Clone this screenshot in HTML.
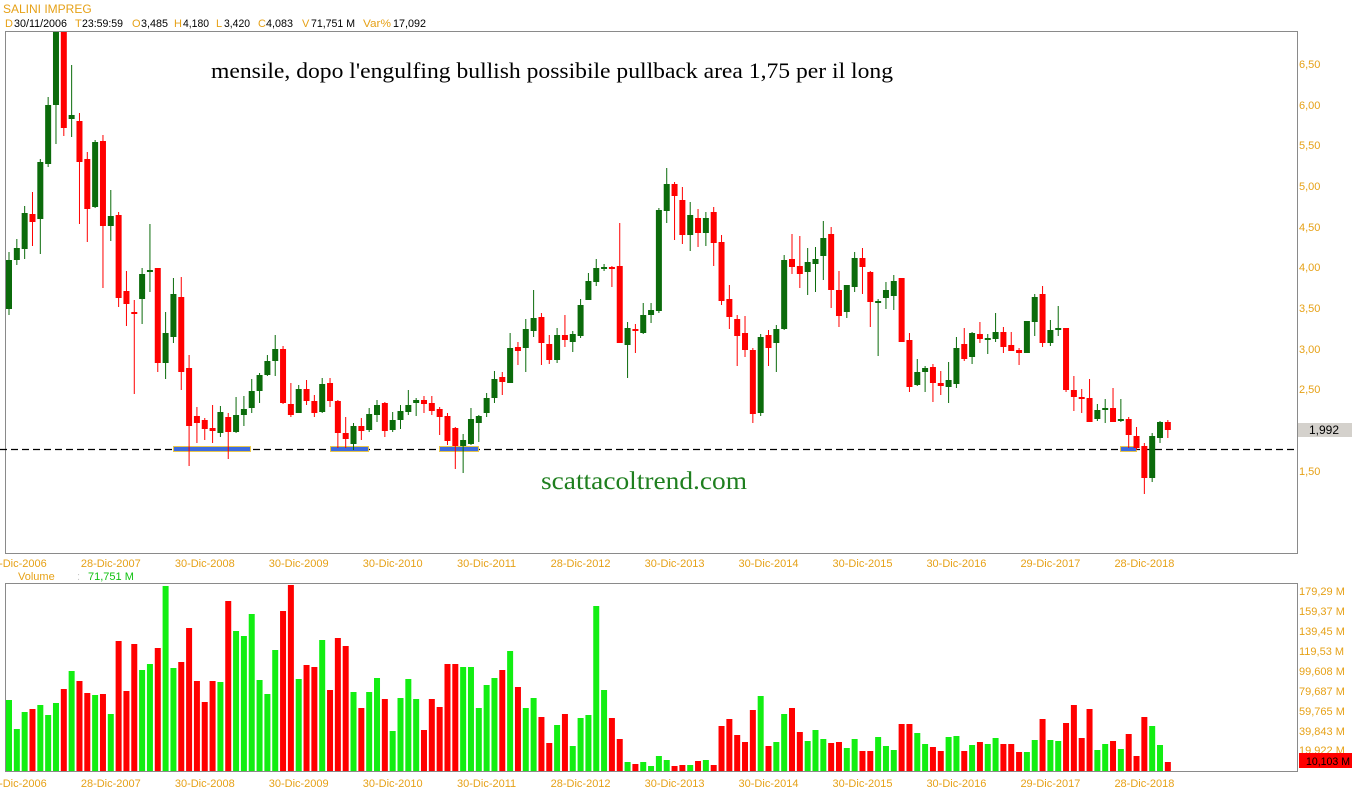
<!DOCTYPE html>
<html><head><meta charset="utf-8"><style>
html,body{margin:0;padding:0;background:#fff;}
svg{display:block;}
.o{fill:#e6a117;}
.k{fill:#000;}
.G{fill:#0b6b0b;}
.R{fill:#ff0000;}
text{font-family:"Liberation Sans",Arial,sans-serif;}
</style></head><body>
<svg width="1352" height="800" viewBox="0 0 1352 800" xmlns="http://www.w3.org/2000/svg">
<defs><clipPath id="cp"><rect x="6" y="32" width="1291" height="521"/></clipPath></defs>
<rect x="0" y="0" width="1352" height="800" fill="#fff"/>
<text x="3" y="13" font-size="12" class="o">SALINI IMPREG</text>
<g font-size="11">
<text x="5" y="27" class="o">D</text><text x="14" y="27" class="k" textLength="53" lengthAdjust="spacingAndGlyphs">30/11/2006</text>
<text x="75" y="27" class="o">T</text><text x="82" y="27" class="k" textLength="41" lengthAdjust="spacingAndGlyphs">23:59:59</text>
<text x="132" y="27" class="o">O</text><text x="141" y="27" class="k" textLength="27" lengthAdjust="spacingAndGlyphs">3,485</text>
<text x="174" y="27" class="o">H</text><text x="183" y="27" class="k" textLength="26" lengthAdjust="spacingAndGlyphs">4,180</text>
<text x="216" y="27" class="o">L</text><text x="224" y="27" class="k" textLength="26" lengthAdjust="spacingAndGlyphs">3,420</text>
<text x="258" y="27" class="o">C</text><text x="266" y="27" class="k" textLength="27" lengthAdjust="spacingAndGlyphs">4,083</text>
<text x="302" y="27" class="o">V</text><text x="311" y="27" class="k" textLength="44" lengthAdjust="spacingAndGlyphs">71,751 M</text>
<text x="363" y="27" class="o" textLength="28" lengthAdjust="spacingAndGlyphs">Var%</text><text x="393" y="27" class="k" textLength="33" lengthAdjust="spacingAndGlyphs">17,092</text>
</g>
<rect x="5.5" y="31.5" width="1292" height="522" fill="none" stroke="#8a8a8a" stroke-width="1"/>
<rect x="5.5" y="583.5" width="1292" height="188" fill="none" stroke="#8a8a8a" stroke-width="1"/>
<text x="211" y="78" font-family="Liberation Serif, serif" style="font-family:'Liberation Serif',serif" font-size="22" fill="#000" textLength="682" lengthAdjust="spacingAndGlyphs">mensile, dopo l'engulfing bullish possibile pullback area 1,75 per il long</text>
<text x="541" y="489" style="font-family:'Liberation Serif',serif" font-size="25" fill="#1f7f1f" textLength="206" lengthAdjust="spacingAndGlyphs">scattacoltrend.com</text>
<line x1="0" y1="449.5" x2="1297" y2="449.5" stroke="#000" stroke-width="1.2" stroke-dasharray="7,4"/>
<g fill="#3d6be0" stroke="#e8c64a" stroke-width="1">
<rect x="173.5" y="446.5" width="77" height="5"/>
<rect x="330.5" y="446.5" width="38" height="5"/>
<rect x="439.5" y="446.5" width="39" height="5"/>
<rect x="1120.5" y="446.5" width="16" height="5"/>
</g>
<g clip-path="url(#cp)">
<g class="G" transform="translate(9)"><rect x="-.5" y="252" width="1" height="63"/><rect x="-3" y="260" width="6" height="49"/></g>
<g class="G" transform="translate(16.83)"><rect x="-.5" y="239" width="1" height="26"/><rect x="-3" y="248" width="6" height="12"/></g>
<g class="G" transform="translate(24.66)"><rect x="-.5" y="206" width="1" height="53"/><rect x="-3" y="213" width="6" height="36"/></g>
<g class="R" transform="translate(32.49)"><rect x="-.5" y="192" width="1" height="54"/><rect x="-3" y="214" width="6" height="8"/></g>
<g class="G" transform="translate(40.32)"><rect x="-.5" y="159" width="1" height="95"/><rect x="-3" y="162" width="6" height="57"/></g>
<g class="G" transform="translate(48.15)"><rect x="-.5" y="97" width="1" height="70"/><rect x="-3" y="105" width="6" height="59"/></g>
<g class="G" transform="translate(55.98)"><rect x="-.5" y="28" width="1" height="116"/><rect x="-3" y="28" width="6" height="77"/></g>
<g class="R" transform="translate(63.81)"><rect x="-.5" y="28" width="1" height="108"/><rect x="-3" y="28" width="6" height="100"/></g>
<g class="G" transform="translate(71.64)"><rect x="-.5" y="65" width="1" height="72"/><rect x="-3" y="115" width="6" height="4"/></g>
<g class="R" transform="translate(79.47)"><rect x="-.5" y="113" width="1" height="111"/><rect x="-3" y="121" width="6" height="41"/></g>
<g class="R" transform="translate(87.3)"><rect x="-.5" y="152" width="1" height="90"/><rect x="-3" y="159" width="6" height="50"/></g>
<g class="G" transform="translate(95.13)"><rect x="-.5" y="140" width="1" height="68"/><rect x="-3" y="142" width="6" height="65"/></g>
<g class="R" transform="translate(102.96)"><rect x="-.5" y="135" width="1" height="153"/><rect x="-3" y="141" width="6" height="85"/></g>
<g class="G" transform="translate(110.79)"><rect x="-.5" y="190" width="1" height="51"/><rect x="-3" y="216" width="6" height="10"/></g>
<g class="R" transform="translate(118.62)"><rect x="-.5" y="212" width="1" height="95"/><rect x="-3" y="215" width="6" height="83"/></g>
<g class="R" transform="translate(126.45)"><rect x="-.5" y="271" width="1" height="55"/><rect x="-3" y="291" width="6" height="13"/></g>
<g class="R" transform="translate(134.28)"><rect x="-.5" y="300" width="1" height="94"/><rect x="-3" y="312" width="6" height="2"/></g>
<g class="G" transform="translate(142.11)"><rect x="-.5" y="268" width="1" height="56"/><rect x="-3" y="274" width="6" height="25"/></g>
<g class="G" transform="translate(149.94)"><rect x="-.5" y="224" width="1" height="68"/><rect x="-3" y="270" width="6" height="2"/></g>
<g class="R" transform="translate(157.77)"><rect x="-.5" y="268" width="1" height="104"/><rect x="-3" y="268" width="6" height="95"/></g>
<g class="G" transform="translate(165.6)"><rect x="-.5" y="312" width="1" height="67"/><rect x="-3" y="333" width="6" height="30"/></g>
<g class="G" transform="translate(173.43)"><rect x="-.5" y="278" width="1" height="65"/><rect x="-3" y="294" width="6" height="43"/></g>
<g class="R" transform="translate(181.26)"><rect x="-.5" y="277" width="1" height="113"/><rect x="-3" y="297" width="6" height="75"/></g>
<g class="R" transform="translate(189.09)"><rect x="-.5" y="355" width="1" height="111"/><rect x="-3" y="368" width="6" height="58"/></g>
<g class="R" transform="translate(196.92)"><rect x="-.5" y="407" width="1" height="36"/><rect x="-3" y="416" width="6" height="7"/></g>
<g class="R" transform="translate(204.75)"><rect x="-.5" y="418" width="1" height="22"/><rect x="-3" y="420" width="6" height="9"/></g>
<g class="R" transform="translate(212.58)"><rect x="-.5" y="405" width="1" height="38"/><rect x="-3" y="428" width="6" height="3"/></g>
<g class="G" transform="translate(220.41)"><rect x="-.5" y="406" width="1" height="31"/><rect x="-3" y="412" width="6" height="21"/></g>
<g class="R" transform="translate(228.24)"><rect x="-.5" y="413" width="1" height="46"/><rect x="-3" y="417" width="6" height="15"/></g>
<g class="G" transform="translate(236.07)"><rect x="-.5" y="397" width="1" height="36"/><rect x="-3" y="415" width="6" height="17"/></g>
<g class="G" transform="translate(243.9)"><rect x="-.5" y="396" width="1" height="30"/><rect x="-3" y="409" width="6" height="6"/></g>
<g class="G" transform="translate(251.73)"><rect x="-.5" y="379" width="1" height="34"/><rect x="-3" y="391" width="6" height="17"/></g>
<g class="G" transform="translate(259.56)"><rect x="-.5" y="373" width="1" height="30"/><rect x="-3" y="375" width="6" height="16"/></g>
<g class="G" transform="translate(267.39)"><rect x="-.5" y="355" width="1" height="21"/><rect x="-3" y="361" width="6" height="14"/></g>
<g class="G" transform="translate(275.22)"><rect x="-.5" y="335" width="1" height="41"/><rect x="-3" y="349" width="6" height="12"/></g>
<g class="R" transform="translate(283.05)"><rect x="-.5" y="346" width="1" height="58"/><rect x="-3" y="349" width="6" height="54"/></g>
<g class="R" transform="translate(290.88)"><rect x="-.5" y="383" width="1" height="34"/><rect x="-3" y="404" width="6" height="11"/></g>
<g class="G" transform="translate(298.71)"><rect x="-.5" y="385" width="1" height="28"/><rect x="-3" y="389" width="6" height="24"/></g>
<g class="R" transform="translate(306.54)"><rect x="-.5" y="380" width="1" height="25"/><rect x="-3" y="389" width="6" height="12"/></g>
<g class="R" transform="translate(314.37)"><rect x="-.5" y="395" width="1" height="22"/><rect x="-3" y="401" width="6" height="12"/></g>
<g class="G" transform="translate(322.2)"><rect x="-.5" y="378" width="1" height="35"/><rect x="-3" y="384" width="6" height="28"/></g>
<g class="R" transform="translate(330.03)"><rect x="-.5" y="378" width="1" height="29"/><rect x="-3" y="383" width="6" height="18"/></g>
<g class="R" transform="translate(337.86)"><rect x="-.5" y="400" width="1" height="48"/><rect x="-3" y="401" width="6" height="32"/></g>
<g class="R" transform="translate(345.69)"><rect x="-.5" y="417" width="1" height="31"/><rect x="-3" y="433" width="6" height="6"/></g>
<g class="G" transform="translate(353.52)"><rect x="-.5" y="423" width="1" height="27"/><rect x="-3" y="426" width="6" height="18"/></g>
<g class="R" transform="translate(361.35)"><rect x="-.5" y="418" width="1" height="22"/><rect x="-3" y="426" width="6" height="5"/></g>
<g class="G" transform="translate(369.18)"><rect x="-.5" y="408" width="1" height="24"/><rect x="-3" y="414" width="6" height="16"/></g>
<g class="G" transform="translate(377.01)"><rect x="-.5" y="400" width="1" height="22"/><rect x="-3" y="405" width="6" height="10"/></g>
<g class="R" transform="translate(384.84)"><rect x="-.5" y="402" width="1" height="35"/><rect x="-3" y="403" width="6" height="28"/></g>
<g class="G" transform="translate(392.67)"><rect x="-.5" y="412" width="1" height="20"/><rect x="-3" y="420" width="6" height="10"/></g>
<g class="G" transform="translate(400.5)"><rect x="-.5" y="405" width="1" height="24"/><rect x="-3" y="411" width="6" height="9"/></g>
<g class="G" transform="translate(408.33)"><rect x="-.5" y="390" width="1" height="25"/><rect x="-3" y="405" width="6" height="7"/></g>
<g class="G" transform="translate(416.16)"><rect x="-.5" y="398" width="1" height="18"/><rect x="-3" y="400" width="6" height="3"/></g>
<g class="R" transform="translate(423.99)"><rect x="-.5" y="396" width="1" height="17"/><rect x="-3" y="400" width="6" height="4"/></g>
<g class="R" transform="translate(431.82)"><rect x="-.5" y="396" width="1" height="19"/><rect x="-3" y="403" width="6" height="8"/></g>
<g class="R" transform="translate(439.65)"><rect x="-.5" y="407" width="1" height="28"/><rect x="-3" y="409" width="6" height="8"/></g>
<g class="R" transform="translate(447.48)"><rect x="-.5" y="413" width="1" height="32"/><rect x="-3" y="416" width="6" height="25"/></g>
<g class="R" transform="translate(455.31)"><rect x="-.5" y="427" width="1" height="42"/><rect x="-3" y="428" width="6" height="18"/></g>
<g class="G" transform="translate(463.14)"><rect x="-.5" y="434" width="1" height="39"/><rect x="-3" y="440" width="6" height="6"/></g>
<g class="G" transform="translate(470.97)"><rect x="-.5" y="408" width="1" height="37"/><rect x="-3" y="419" width="6" height="25"/></g>
<g class="G" transform="translate(478.8)"><rect x="-.5" y="415" width="1" height="27"/><rect x="-3" y="416" width="6" height="7"/></g>
<g class="G" transform="translate(486.63)"><rect x="-.5" y="393" width="1" height="24"/><rect x="-3" y="398" width="6" height="15"/></g>
<g class="G" transform="translate(494.46)"><rect x="-.5" y="371" width="1" height="32"/><rect x="-3" y="379" width="6" height="19"/></g>
<g class="R" transform="translate(502.29)"><rect x="-.5" y="372" width="1" height="23"/><rect x="-3" y="377" width="6" height="5"/></g>
<g class="G" transform="translate(510.12)"><rect x="-.5" y="333" width="1" height="50"/><rect x="-3" y="348" width="6" height="35"/></g>
<g class="R" transform="translate(517.95)"><rect x="-.5" y="342" width="1" height="23"/><rect x="-3" y="347" width="6" height="4"/></g>
<g class="G" transform="translate(525.78)"><rect x="-.5" y="319" width="1" height="53"/><rect x="-3" y="329" width="6" height="19"/></g>
<g class="G" transform="translate(533.61)"><rect x="-.5" y="290" width="1" height="47"/><rect x="-3" y="318" width="6" height="13"/></g>
<g class="R" transform="translate(541.44)"><rect x="-.5" y="313" width="1" height="52"/><rect x="-3" y="317" width="6" height="26"/></g>
<g class="R" transform="translate(549.27)"><rect x="-.5" y="335" width="1" height="29"/><rect x="-3" y="344" width="6" height="16"/></g>
<g class="G" transform="translate(557.1)"><rect x="-.5" y="328" width="1" height="35"/><rect x="-3" y="335" width="6" height="25"/></g>
<g class="R" transform="translate(564.93)"><rect x="-.5" y="315" width="1" height="32"/><rect x="-3" y="335" width="6" height="5"/></g>
<g class="G" transform="translate(572.76)"><rect x="-.5" y="331" width="1" height="21"/><rect x="-3" y="334" width="6" height="8"/></g>
<g class="G" transform="translate(580.59)"><rect x="-.5" y="299" width="1" height="39"/><rect x="-3" y="305" width="6" height="31"/></g>
<g class="G" transform="translate(588.42)"><rect x="-.5" y="273" width="1" height="27"/><rect x="-3" y="281" width="6" height="19"/></g>
<g class="G" transform="translate(596.25)"><rect x="-.5" y="259" width="1" height="27"/><rect x="-3" y="268" width="6" height="14"/></g>
<g class="G" transform="translate(604.08)"><rect x="-.5" y="264" width="1" height="7"/><rect x="-3" y="267" width="6" height="2"/></g>
<g class="R" transform="translate(611.91)"><rect x="-.5" y="266" width="1" height="21"/><rect x="-3" y="267" width="6" height="2"/></g>
<g class="R" transform="translate(619.74)"><rect x="-.5" y="223" width="1" height="120"/><rect x="-3" y="266" width="6" height="77"/></g>
<g class="G" transform="translate(627.57)"><rect x="-.5" y="322" width="1" height="56"/><rect x="-3" y="328" width="6" height="17"/></g>
<g class="R" transform="translate(635.4)"><rect x="-.5" y="324" width="1" height="29"/><rect x="-3" y="329" width="6" height="2"/></g>
<g class="G" transform="translate(643.23)"><rect x="-.5" y="303" width="1" height="31"/><rect x="-3" y="315" width="6" height="18"/></g>
<g class="G" transform="translate(651.06)"><rect x="-.5" y="303" width="1" height="20"/><rect x="-3" y="310" width="6" height="5"/></g>
<g class="G" transform="translate(658.89)"><rect x="-.5" y="208" width="1" height="105"/><rect x="-3" y="210" width="6" height="101"/></g>
<g class="G" transform="translate(666.72)"><rect x="-.5" y="168" width="1" height="55"/><rect x="-3" y="184" width="6" height="27"/></g>
<g class="R" transform="translate(674.55)"><rect x="-.5" y="182" width="1" height="58"/><rect x="-3" y="184" width="6" height="12"/></g>
<g class="R" transform="translate(682.38)"><rect x="-.5" y="187" width="1" height="57"/><rect x="-3" y="200" width="6" height="35"/></g>
<g class="G" transform="translate(690.21)"><rect x="-.5" y="202" width="1" height="49"/><rect x="-3" y="215" width="6" height="20"/></g>
<g class="R" transform="translate(698.04)"><rect x="-.5" y="209" width="1" height="38"/><rect x="-3" y="218" width="6" height="15"/></g>
<g class="G" transform="translate(705.87)"><rect x="-.5" y="212" width="1" height="34"/><rect x="-3" y="218" width="6" height="15"/></g>
<g class="R" transform="translate(713.7)"><rect x="-.5" y="207" width="1" height="59"/><rect x="-3" y="212" width="6" height="31"/></g>
<g class="R" transform="translate(721.53)"><rect x="-.5" y="235" width="1" height="70"/><rect x="-3" y="242" width="6" height="59"/></g>
<g class="R" transform="translate(729.36)"><rect x="-.5" y="285" width="1" height="44"/><rect x="-3" y="299" width="6" height="18"/></g>
<g class="R" transform="translate(737.19)"><rect x="-.5" y="315" width="1" height="51"/><rect x="-3" y="319" width="6" height="17"/></g>
<g class="R" transform="translate(745.02)"><rect x="-.5" y="316" width="1" height="41"/><rect x="-3" y="333" width="6" height="17"/></g>
<g class="R" transform="translate(752.85)"><rect x="-.5" y="348" width="1" height="75"/><rect x="-3" y="350" width="6" height="64"/></g>
<g class="G" transform="translate(760.68)"><rect x="-.5" y="334" width="1" height="82"/><rect x="-3" y="337" width="6" height="76"/></g>
<g class="R" transform="translate(768.51)"><rect x="-.5" y="330" width="1" height="36"/><rect x="-3" y="335" width="6" height="13"/></g>
<g class="G" transform="translate(776.34)"><rect x="-.5" y="325" width="1" height="47"/><rect x="-3" y="329" width="6" height="14"/></g>
<g class="G" transform="translate(784.17)"><rect x="-.5" y="255" width="1" height="75"/><rect x="-3" y="260" width="6" height="69"/></g>
<g class="R" transform="translate(792)"><rect x="-.5" y="234" width="1" height="40"/><rect x="-3" y="259" width="6" height="8"/></g>
<g class="R" transform="translate(799.83)"><rect x="-.5" y="236" width="1" height="52"/><rect x="-3" y="266" width="6" height="8"/></g>
<g class="G" transform="translate(807.66)"><rect x="-.5" y="248" width="1" height="47"/><rect x="-3" y="262" width="6" height="10"/></g>
<g class="G" transform="translate(815.49)"><rect x="-.5" y="247" width="1" height="45"/><rect x="-3" y="259" width="6" height="5"/></g>
<g class="G" transform="translate(823.32)"><rect x="-.5" y="221" width="1" height="59"/><rect x="-3" y="238" width="6" height="18"/></g>
<g class="R" transform="translate(831.15)"><rect x="-.5" y="227" width="1" height="81"/><rect x="-3" y="234" width="6" height="56"/></g>
<g class="R" transform="translate(838.98)"><rect x="-.5" y="271" width="1" height="56"/><rect x="-3" y="290" width="6" height="26"/></g>
<g class="G" transform="translate(846.81)"><rect x="-.5" y="285" width="1" height="33"/><rect x="-3" y="285" width="6" height="27"/></g>
<g class="G" transform="translate(854.64)"><rect x="-.5" y="252" width="1" height="40"/><rect x="-3" y="258" width="6" height="29"/></g>
<g class="R" transform="translate(862.47)"><rect x="-.5" y="248" width="1" height="46"/><rect x="-3" y="258" width="6" height="9"/></g>
<g class="R" transform="translate(870.3)"><rect x="-.5" y="271" width="1" height="56"/><rect x="-3" y="272" width="6" height="30"/></g>
<g class="G" transform="translate(878.13)"><rect x="-.5" y="299" width="1" height="57"/><rect x="-3" y="301" width="6" height="2"/></g>
<g class="G" transform="translate(885.96)"><rect x="-.5" y="282" width="1" height="27"/><rect x="-3" y="290" width="6" height="8"/></g>
<g class="G" transform="translate(893.79)"><rect x="-.5" y="275" width="1" height="35"/><rect x="-3" y="281" width="6" height="15"/></g>
<g class="R" transform="translate(901.62)"><rect x="-.5" y="278" width="1" height="64"/><rect x="-3" y="278" width="6" height="64"/></g>
<g class="R" transform="translate(909.45)"><rect x="-.5" y="333" width="1" height="59"/><rect x="-3" y="340" width="6" height="47"/></g>
<g class="G" transform="translate(917.28)"><rect x="-.5" y="359" width="1" height="27"/><rect x="-3" y="372" width="6" height="13"/></g>
<g class="G" transform="translate(925.11)"><rect x="-.5" y="366" width="1" height="26"/><rect x="-3" y="368" width="6" height="4"/></g>
<g class="R" transform="translate(932.94)"><rect x="-.5" y="364" width="1" height="38"/><rect x="-3" y="367" width="6" height="16"/></g>
<g class="R" transform="translate(940.77)"><rect x="-.5" y="371" width="1" height="24"/><rect x="-3" y="383" width="6" height="3"/></g>
<g class="G" transform="translate(948.6)"><rect x="-.5" y="362" width="1" height="41"/><rect x="-3" y="380" width="6" height="7"/></g>
<g class="G" transform="translate(956.43)"><rect x="-.5" y="337" width="1" height="51"/><rect x="-3" y="348" width="6" height="36"/></g>
<g class="R" transform="translate(964.26)"><rect x="-.5" y="328" width="1" height="33"/><rect x="-3" y="344" width="6" height="15"/></g>
<g class="G" transform="translate(972.09)"><rect x="-.5" y="332" width="1" height="32"/><rect x="-3" y="333" width="6" height="24"/></g>
<g class="R" transform="translate(979.92)"><rect x="-.5" y="322" width="1" height="21"/><rect x="-3" y="334" width="6" height="5"/></g>
<g class="G" transform="translate(987.75)"><rect x="-.5" y="334" width="1" height="20"/><rect x="-3" y="338" width="6" height="2"/></g>
<g class="G" transform="translate(995.58)"><rect x="-.5" y="313" width="1" height="29"/><rect x="-3" y="332" width="6" height="7"/></g>
<g class="R" transform="translate(1003.41)"><rect x="-.5" y="327" width="1" height="26"/><rect x="-3" y="332" width="6" height="15"/></g>
<g class="R" transform="translate(1011.24)"><rect x="-.5" y="332" width="1" height="19"/><rect x="-3" y="345" width="6" height="6"/></g>
<g class="R" transform="translate(1019.07)"><rect x="-.5" y="348" width="1" height="17"/><rect x="-3" y="350" width="6" height="3"/></g>
<g class="G" transform="translate(1026.9)"><rect x="-.5" y="321" width="1" height="32"/><rect x="-3" y="321" width="6" height="32"/></g>
<g class="G" transform="translate(1034.73)"><rect x="-.5" y="294" width="1" height="42"/><rect x="-3" y="297" width="6" height="25"/></g>
<g class="R" transform="translate(1042.56)"><rect x="-.5" y="286" width="1" height="61"/><rect x="-3" y="294" width="6" height="49"/></g>
<g class="G" transform="translate(1050.39)"><rect x="-.5" y="320" width="1" height="26"/><rect x="-3" y="330" width="6" height="13"/></g>
<g class="G" transform="translate(1058.22)"><rect x="-.5" y="306" width="1" height="30"/><rect x="-3" y="328" width="6" height="2"/></g>
<g class="R" transform="translate(1066.05)"><rect x="-.5" y="328" width="1" height="64"/><rect x="-3" y="328" width="6" height="62"/></g>
<g class="R" transform="translate(1073.88)"><rect x="-.5" y="376" width="1" height="35"/><rect x="-3" y="390" width="6" height="7"/></g>
<g class="R" transform="translate(1081.71)"><rect x="-.5" y="389" width="1" height="24"/><rect x="-3" y="397" width="6" height="2"/></g>
<g class="R" transform="translate(1089.54)"><rect x="-.5" y="379" width="1" height="43"/><rect x="-3" y="398" width="6" height="24"/></g>
<g class="G" transform="translate(1097.37)"><rect x="-.5" y="404" width="1" height="17"/><rect x="-3" y="410" width="6" height="9"/></g>
<g class="G" transform="translate(1105.2)"><rect x="-.5" y="399" width="1" height="24"/><rect x="-3" y="408" width="6" height="2"/></g>
<g class="R" transform="translate(1113.03)"><rect x="-.5" y="388" width="1" height="34"/><rect x="-3" y="408" width="6" height="14"/></g>
<g class="G" transform="translate(1120.86)"><rect x="-.5" y="399" width="1" height="23"/><rect x="-3" y="419" width="6" height="2"/></g>
<g class="R" transform="translate(1128.69)"><rect x="-.5" y="417" width="1" height="31"/><rect x="-3" y="419" width="6" height="16"/></g>
<g class="R" transform="translate(1136.52)"><rect x="-.5" y="427" width="1" height="23"/><rect x="-3" y="436" width="6" height="12"/></g>
<g class="R" transform="translate(1144.35)"><rect x="-.5" y="443" width="1" height="51"/><rect x="-3" y="446" width="6" height="32"/></g>
<g class="G" transform="translate(1152.18)"><rect x="-.5" y="433" width="1" height="49"/><rect x="-3" y="436" width="6" height="42"/></g>
<g class="G" transform="translate(1160.01)"><rect x="-.5" y="421" width="1" height="22"/><rect x="-3" y="422" width="6" height="16"/></g>
<g class="R" transform="translate(1167.84)"><rect x="-.5" y="420" width="1" height="18"/><rect x="-3" y="422" width="6" height="8"/></g>
</g>
<!-- volume -->
<g fill="#12ee12">
<rect x="6" y="700" width="6" height="71"/><rect x="13.83" y="729" width="6" height="42"/><rect x="21.66" y="712" width="6" height="59"/><rect x="37.32" y="705" width="6" height="66"/><rect x="45.15" y="715" width="6" height="56"/><rect x="52.98" y="703" width="6" height="68"/><rect x="68.64" y="671" width="6" height="100"/><rect x="92.13" y="695" width="6" height="76"/><rect x="107.79" y="714" width="6" height="57"/><rect x="139.11" y="670" width="6" height="101"/><rect x="146.94" y="664" width="6" height="107"/><rect x="162.6" y="586" width="6" height="185"/><rect x="170.43" y="668" width="6" height="103"/><rect x="217.41" y="682" width="6" height="89"/><rect x="233.07" y="631" width="6" height="140"/><rect x="240.9" y="636" width="6" height="135"/><rect x="248.73" y="614" width="6" height="157"/><rect x="256.56" y="680" width="6" height="91"/><rect x="264.39" y="694" width="6" height="77"/><rect x="272.22" y="650" width="6" height="121"/><rect x="295.71" y="679" width="6" height="92"/><rect x="319.2" y="640" width="6" height="131"/><rect x="350.52" y="692" width="6" height="79"/><rect x="366.18" y="692" width="6" height="79"/><rect x="374.01" y="678" width="6" height="93"/><rect x="389.67" y="731" width="6" height="40"/><rect x="397.5" y="698" width="6" height="73"/><rect x="405.33" y="679" width="6" height="92"/><rect x="413.16" y="699" width="6" height="72"/><rect x="460.14" y="667" width="6" height="104"/><rect x="467.97" y="667" width="6" height="104"/><rect x="475.8" y="708" width="6" height="63"/><rect x="483.63" y="685" width="6" height="86"/><rect x="491.46" y="678" width="6" height="93"/><rect x="507.12" y="651" width="6" height="120"/><rect x="522.78" y="708" width="6" height="63"/><rect x="530.61" y="698" width="6" height="73"/><rect x="554.1" y="725" width="6" height="46"/><rect x="569.76" y="746" width="6" height="25"/><rect x="577.59" y="718" width="6" height="53"/><rect x="585.42" y="715" width="6" height="56"/><rect x="593.25" y="606" width="6" height="165"/><rect x="601.08" y="690" width="6" height="81"/><rect x="624.57" y="762" width="6" height="9"/><rect x="640.23" y="762" width="6" height="9"/><rect x="648.06" y="766" width="6" height="5"/><rect x="655.89" y="756" width="6" height="15"/><rect x="663.72" y="760" width="6" height="11"/><rect x="687.21" y="765" width="6" height="6"/><rect x="702.87" y="760" width="6" height="11"/><rect x="757.68" y="696" width="6" height="75"/><rect x="773.34" y="742" width="6" height="29"/><rect x="781.17" y="714" width="6" height="57"/><rect x="804.66" y="741" width="6" height="30"/><rect x="812.49" y="730" width="6" height="41"/><rect x="820.32" y="739" width="6" height="32"/><rect x="843.81" y="748" width="6" height="23"/><rect x="851.64" y="739" width="6" height="32"/><rect x="875.13" y="737" width="6" height="34"/><rect x="882.96" y="746" width="6" height="25"/><rect x="890.79" y="750" width="6" height="21"/><rect x="914.28" y="733" width="6" height="38"/><rect x="922.11" y="744" width="6" height="27"/><rect x="945.6" y="737" width="6" height="34"/><rect x="953.43" y="736" width="6" height="35"/><rect x="969.09" y="745" width="6" height="26"/><rect x="984.75" y="744" width="6" height="27"/><rect x="992.58" y="738" width="6" height="33"/><rect x="1023.9" y="752" width="6" height="19"/><rect x="1031.73" y="740" width="6" height="31"/><rect x="1047.39" y="740" width="6" height="31"/><rect x="1055.22" y="741" width="6" height="30"/><rect x="1094.37" y="750" width="6" height="21"/><rect x="1102.2" y="744" width="6" height="27"/><rect x="1117.86" y="749" width="6" height="22"/><rect x="1149.18" y="726" width="6" height="45"/><rect x="1157.01" y="745" width="6" height="26"/>
</g>
<g fill="#ff0000">
<rect x="29.49" y="709" width="6" height="62"/><rect x="60.81" y="689" width="6" height="82"/><rect x="76.47" y="681" width="6" height="90"/><rect x="84.3" y="693" width="6" height="78"/><rect x="99.96" y="694" width="6" height="77"/><rect x="115.62" y="641" width="6" height="130"/><rect x="123.45" y="691" width="6" height="80"/><rect x="131.28" y="644" width="6" height="127"/><rect x="154.77" y="648" width="6" height="123"/><rect x="178.26" y="662" width="6" height="109"/><rect x="186.09" y="628" width="6" height="143"/><rect x="193.92" y="681" width="6" height="90"/><rect x="201.75" y="702" width="6" height="69"/><rect x="209.58" y="681" width="6" height="90"/><rect x="225.24" y="601" width="6" height="170"/><rect x="280.05" y="611" width="6" height="160"/><rect x="287.88" y="585" width="6" height="186"/><rect x="303.54" y="665" width="6" height="106"/><rect x="311.37" y="667" width="6" height="104"/><rect x="327.03" y="690" width="6" height="81"/><rect x="334.86" y="638" width="6" height="133"/><rect x="342.69" y="646" width="6" height="125"/><rect x="358.35" y="708" width="6" height="63"/><rect x="381.84" y="699" width="6" height="72"/><rect x="420.99" y="730" width="6" height="41"/><rect x="428.82" y="699" width="6" height="72"/><rect x="436.65" y="707" width="6" height="64"/><rect x="444.48" y="664" width="6" height="107"/><rect x="452.31" y="664" width="6" height="107"/><rect x="499.29" y="670" width="6" height="101"/><rect x="514.95" y="687" width="6" height="84"/><rect x="538.44" y="717" width="6" height="54"/><rect x="546.27" y="743" width="6" height="28"/><rect x="561.93" y="714" width="6" height="57"/><rect x="608.91" y="718" width="6" height="53"/><rect x="616.74" y="739" width="6" height="32"/><rect x="632.4" y="764" width="6" height="7"/><rect x="671.55" y="766" width="6" height="5"/><rect x="679.38" y="765" width="6" height="6"/><rect x="695.04" y="761" width="6" height="10"/><rect x="710.7" y="765" width="6" height="6"/><rect x="718.53" y="726" width="6" height="45"/><rect x="726.36" y="719" width="6" height="52"/><rect x="734.19" y="735" width="6" height="36"/><rect x="742.02" y="742" width="6" height="29"/><rect x="749.85" y="710" width="6" height="61"/><rect x="765.51" y="746" width="6" height="25"/><rect x="789" y="708" width="6" height="63"/><rect x="796.83" y="732" width="6" height="39"/><rect x="828.15" y="743" width="6" height="28"/><rect x="835.98" y="742" width="6" height="29"/><rect x="859.47" y="751" width="6" height="20"/><rect x="867.3" y="751" width="6" height="20"/><rect x="898.62" y="724" width="6" height="47"/><rect x="906.45" y="724" width="6" height="47"/><rect x="929.94" y="747" width="6" height="24"/><rect x="937.77" y="751" width="6" height="20"/><rect x="961.26" y="751" width="6" height="20"/><rect x="976.92" y="742" width="6" height="29"/><rect x="1000.41" y="744" width="6" height="27"/><rect x="1008.24" y="744" width="6" height="27"/><rect x="1016.07" y="752" width="6" height="19"/><rect x="1039.56" y="719" width="6" height="52"/><rect x="1063.05" y="723" width="6" height="48"/><rect x="1070.88" y="705" width="6" height="66"/><rect x="1078.71" y="738" width="6" height="33"/><rect x="1086.54" y="709" width="6" height="62"/><rect x="1110.03" y="741" width="6" height="30"/><rect x="1125.69" y="734" width="6" height="37"/><rect x="1133.52" y="756" width="6" height="15"/><rect x="1141.35" y="717" width="6" height="54"/><rect x="1164.84" y="762" width="6" height="9"/>
</g>
<!-- right price axis -->
<g font-size="11" class="o">
<text x="1299" y="68">6,50</text>
<text x="1299" y="109">6,00</text>
<text x="1299" y="149">5,50</text>
<text x="1299" y="190">5,00</text>
<text x="1299" y="231">4,50</text>
<text x="1299" y="271">4,00</text>
<text x="1299" y="312">3,50</text>
<text x="1299" y="353">3,00</text>
<text x="1299" y="393">2,50</text>
<text x="1299" y="475">1,50</text>
</g>
<rect x="1298" y="423" width="54" height="14" fill="#d4d1cc"/>
<text x="1324" y="434" font-size="12" text-anchor="middle" fill="#000">1,992</text>
<!-- volume axis -->
<g font-size="11" class="o">
<text x="1299" y="595">179,29 M</text>
<text x="1299" y="615">159,37 M</text>
<text x="1299" y="635">139,45 M</text>
<text x="1299" y="655">119,53 M</text>
<text x="1299" y="675">99,608 M</text>
<text x="1299" y="695">79,687 M</text>
<text x="1299" y="715">59,765 M</text>
<text x="1299" y="735">39,843 M</text>
<text x="1299" y="754">19,922 M</text>
</g>
<rect x="1299" y="753" width="53" height="15" fill="#ff0000"/>
<text x="1306" y="765" font-size="11" fill="#000" textLength="44" lengthAdjust="spacingAndGlyphs">10,103 M</text>
<!-- x axis top -->
<g font-size="11" class="o" text-anchor="middle">
<text x="16.8" y="567">29-Dic-2006</text>
<text x="110.8" y="567">28-Dic-2007</text>
<text x="204.8" y="567">30-Dic-2008</text>
<text x="298.7" y="567">30-Dic-2009</text>
<text x="392.7" y="567">30-Dic-2010</text>
<text x="486.6" y="567">30-Dic-2011</text>
<text x="580.6" y="567">28-Dic-2012</text>
<text x="674.6" y="567">30-Dic-2013</text>
<text x="768.5" y="567">30-Dic-2014</text>
<text x="862.5" y="567">30-Dic-2015</text>
<text x="956.4" y="567">30-Dic-2016</text>
<text x="1050.4" y="567">29-Dic-2017</text>
<text x="1144.4" y="567">28-Dic-2018</text>
</g>
<g font-size="11" class="o" text-anchor="middle">
<text x="16.8" y="787">29-Dic-2006</text>
<text x="110.8" y="787">28-Dic-2007</text>
<text x="204.8" y="787">30-Dic-2008</text>
<text x="298.7" y="787">30-Dic-2009</text>
<text x="392.7" y="787">30-Dic-2010</text>
<text x="486.6" y="787">30-Dic-2011</text>
<text x="580.6" y="787">28-Dic-2012</text>
<text x="674.6" y="787">30-Dic-2013</text>
<text x="768.5" y="787">30-Dic-2014</text>
<text x="862.5" y="787">30-Dic-2015</text>
<text x="956.4" y="787">30-Dic-2016</text>
<text x="1050.4" y="787">29-Dic-2017</text>
<text x="1144.4" y="787">28-Dic-2018</text>
</g>
<text x="18" y="580" font-size="11" class="o">Volume</text>
<text x="77" y="580" font-size="11" fill="#c8c8c8">:</text>
<text x="88" y="580" font-size="11" fill="#10c010">71,751 M</text>
</svg>
</body></html>
